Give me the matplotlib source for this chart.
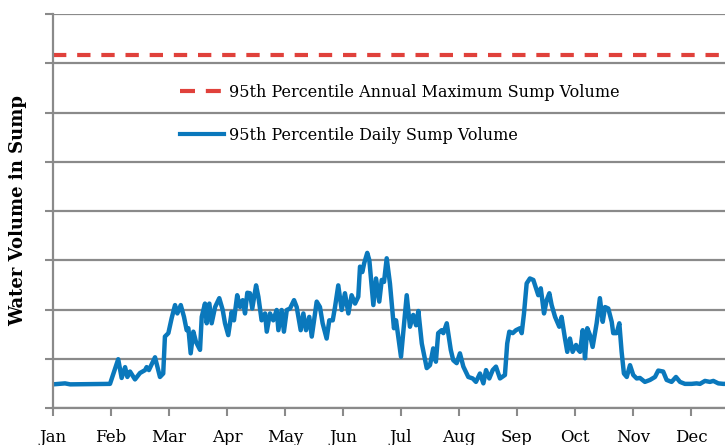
import matplotlib
matplotlib.use("Agg")
import matplotlib.pyplot as plt
from matplotlib.lines import Line2D

# ---------------- data ----------------
months = ["Jan", "Feb", "Mar", "Apr", "May", "Jun",
          "Jul", "Aug", "Sep", "Oct", "Nov", "Dec"]

day = [0, 6.3, 9, 29.9, 34.2, 36.0, 37.8, 39.0, 40.4, 43.0, 45.6, 48.3, 49.1,
       50.3, 53.5, 56.1, 57.8, 58.7, 60.5, 62.2, 64.0, 65.2, 67.0, 68.7, 70.1,
       71.0, 72.2, 73.6, 75.0, 77.1, 78.0, 79.7, 80.6, 82.0, 83.2, 85.0, 87.2,
       89.0, 90.2, 91.9, 93.7, 94.9, 96.6, 98.1, 99.5, 100.7, 101.9, 103.3,
       104.5, 106.5, 107.7, 109.4, 111.2, 112.1, 113.8, 115.5, 117.3, 118.2,
       119.9, 121.1, 122.6, 124.3, 126.4, 127.8, 129.9, 131.3, 132.7, 134.4,
       135.7, 138.3, 140.0, 141.4, 143.5, 144.9, 146.7, 147.9, 149.6, 151.4,
       153.1, 154.9, 156.6, 158.4, 160.1, 161.0, 162.2, 163.2, 164.8, 165.9,
       168.0, 169.4, 171.1, 172.4, 173.6, 175.0, 176.7, 178.8, 179.9, 182.5,
       185.5, 187.2, 188.9, 190.4, 191.6, 193.4, 196.0, 197.7, 199.4, 200.8,
       202.0, 203.8, 204.7, 206.5, 208.6, 209.9, 211.7, 213.4, 215.2, 217.8,
       220.1, 221.8, 223.9, 225.7, 227.1, 228.8, 230.6, 232.3, 234.4, 237.0,
       238.2, 239.3, 241.1, 242.8, 244.9, 245.8, 247.0, 248.4, 250.1, 251.9,
       253.3, 254.5, 255.8, 257.5, 258.9, 260.3, 261.5, 263.3, 265.5, 266.7,
       268.5, 269.7, 271.1, 272.5, 274.3, 275.5, 276.4, 277.8, 279.0, 280.2,
       281.6, 283.0, 285.1, 286.8, 288.3, 289.5, 291.2, 293.0, 293.8, 295.6,
       297.0, 298.2, 299.4, 300.9, 302.6, 304.3, 306.1, 307.8, 310.4, 313.1,
       315.7, 317.4, 320.0, 321.8, 324.4, 326.7, 328.8, 331.4, 334.9, 337.5,
       339.3, 341.9, 344.5, 346.3, 348.9, 351.5, 358, 365]

daily_volume = [0.48, 0.50, 0.48, 0.49, 0.99, 0.61, 0.83, 0.63, 0.74, 0.58, 0.71,
                0.77, 0.83, 0.77, 1.03, 0.63, 0.70, 1.45, 1.52, 1.82, 2.09, 1.92,
                2.09, 1.85, 1.58, 1.62, 1.11, 1.55, 1.34, 1.18, 1.85, 2.12, 1.72,
                2.12, 1.72, 2.05, 2.23, 1.99, 1.72, 1.48, 1.95, 1.78, 2.29, 2.05,
                2.19, 1.92, 2.34, 2.33, 2.02, 2.49, 2.26, 1.78, 1.92, 1.55, 1.92,
                1.78, 1.99, 1.58, 1.99, 1.55, 1.99, 2.02, 2.19, 2.05, 1.58, 1.92,
                1.58, 1.85, 1.45, 2.16, 2.05, 1.72, 1.41, 1.78, 1.78, 2.05, 2.49,
                1.99, 2.33, 1.92, 2.29, 2.12, 2.26, 2.87, 2.76, 2.94, 3.15, 3.00,
                2.09, 2.63, 2.16, 2.60, 2.56, 3.04, 2.53, 1.62, 1.78, 1.04, 2.29,
                1.65, 1.89, 1.68, 1.97, 1.31, 0.81, 0.87, 1.21, 0.94, 1.52, 1.58,
                1.52, 1.72, 1.18, 0.97, 0.91, 1.11, 0.84, 0.63, 0.60, 0.53, 0.70,
                0.50, 0.77, 0.60, 0.77, 0.84, 0.60, 0.67, 1.31, 1.55, 1.52, 1.58,
                1.62, 1.52, 1.92, 2.53, 2.63, 2.60, 2.43, 2.29, 2.43, 1.92, 2.19,
                2.33, 2.09, 1.85, 1.65, 1.85, 1.41, 1.14, 1.41, 1.14, 1.28, 1.18,
                1.14, 1.58, 1.01, 1.62, 1.48, 1.24, 1.72, 2.23, 1.75, 2.05, 2.02,
                1.75, 1.52, 1.52, 1.72, 1.14, 0.70, 0.63, 0.87, 0.67, 0.60, 0.61,
                0.53, 0.57, 0.63, 0.76, 0.74, 0.57, 0.53, 0.63, 0.53, 0.49, 0.49,
                0.50, 0.49, 0.55, 0.53, 0.55, 0.50, 0.49, 0.49, 0.49]

annual_max_volume = 7.16

label_max = "95th Percentile Annual Maximum Sump Volume"
label_daily = "95th Percentile Daily Sump Volume"
y_label = "Water Volume in Sump"

# ---------------- style ----------------
plt.rcParams['font.family'] = ['DejaVu Serif']
blue = "#0a78bc"
red = "#e0413b"
gray = "#8a8a8a"

fig = plt.figure(figsize=(7.25, 4.45), dpi=100)
ax = fig.add_axes([53 / 725, 37 / 445, 672 / 725, 394 / 445])

month_len = 365 / 12
ax.set_xlim(0, 672 / 58 * month_len)
ax.set_ylim(0, 8)

ax.set_yticks(range(0, 9))
ax.set_yticklabels([])
ax.yaxis.grid(True, color=gray, linewidth=1.6)
ax.set_axisbelow(True)

ax.set_xticks([i * month_len for i in range(12)])
ax.set_xticklabels(months, fontsize=12)
ax.tick_params(axis='x', length=6, width=1.5, color=gray, pad=9)
ax.tick_params(axis='y', length=6, width=1.5, color=gray, direction='out')

for s in ["top", "right"]:
    ax.spines[s].set_visible(False)
for s in ["left", "bottom"]:
    ax.spines[s].set_color(gray)
    ax.spines[s].set_linewidth(1.6)

ax.plot(ax.get_xlim(), [annual_max_volume, annual_max_volume], color=red,
        linewidth=3, dashes=(3.2, 2.6), solid_capstyle='butt',
        dash_capstyle='butt', clip_on=False)
ax.plot(day, daily_volume, color=blue, linewidth=3.2, solid_joinstyle='round')

ax.set_ylabel(y_label, fontsize=13, fontweight='bold', labelpad=9)

handles = [Line2D([], [], color=red, linewidth=3, dashes=(3.6, 2.6)),
           Line2D([], [], color=blue, linewidth=3)]
ax.legend(handles, [label_max, label_daily], loc='upper left',
          bbox_to_anchor=(127 / 672, 1 - 70 / 394), frameon=False,
          fontsize=11.5, handlelength=2.75, handletextpad=0.3,
          labelspacing=1.6, borderpad=0, borderaxespad=0)

fig.savefig("out.png", dpi=100)
